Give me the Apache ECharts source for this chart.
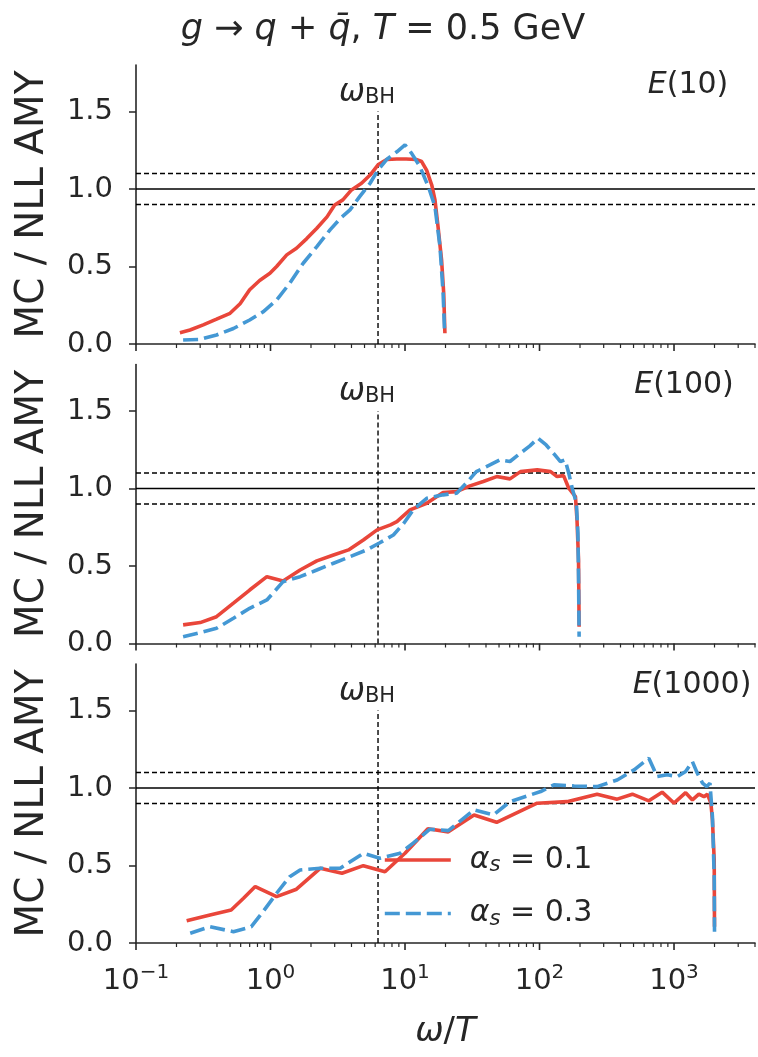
<!DOCTYPE html>
<html>
<head>
<meta charset="utf-8">
<script src="https://cdn.jsdelivr.net/npm/echarts@6/dist/echarts.min.js"></script>
<style>
  html, body { margin: 0; padding: 0; background: #fff; }
  #chart { width: 758px; height: 1057px; }
</style>
</head>
<body>
<div id="chart"></div>
<script>
// ---- data: omega/T (x) and MC / NLL AMY ratio (y) ----
const e10_a01_x = [0.212, 0.252, 0.316, 0.397, 0.50, 0.594, 0.70, 0.83, 0.99, 1.11, 1.32, 1.56, 1.86, 2.21, 2.63, 3.0, 3.45, 4.0, 4.75, 5.5, 6.3, 7.3, 8.7, 10.2, 12.1, 13.3, 14.5, 15.8, 16.7, 17.6, 18.7, 19.4, 19.8];
const e10_a01_y = [0.073, 0.09, 0.123, 0.16, 0.198, 0.26, 0.35, 0.41, 0.456, 0.50, 0.575, 0.618, 0.68, 0.747, 0.82, 0.897, 0.93, 0.994, 1.037, 1.09, 1.156, 1.19, 1.194, 1.194, 1.19, 1.177, 1.12, 1.026, 0.93, 0.757, 0.542, 0.327, 0.069];
const e10_a03_x = [0.224, 0.30, 0.397, 0.53, 0.70, 0.886, 1.11, 1.39, 1.75, 2.21, 2.77, 3.3, 3.9, 4.6, 5.5, 6.3, 7.3, 8.7, 10.0, 11.2, 12.9, 14.9, 16.7, 18.2, 19.2, 19.7];
const e10_a03_y = [0.026, 0.03, 0.058, 0.10, 0.155, 0.209, 0.284, 0.392, 0.521, 0.628, 0.736, 0.81, 0.865, 0.951, 1.037, 1.123, 1.19, 1.24, 1.285, 1.23, 1.145, 1.016, 0.886, 0.628, 0.327, 0.07];

const e100_a01_x = [0.224, 0.30, 0.397, 0.53, 0.70, 0.94, 1.24, 1.66, 2.21, 2.94, 3.80, 4.9, 6.2, 7.8, 8.7, 10.9, 14.5, 19.2, 24.2, 30.4, 38.2, 48.0, 60.3, 72.2, 96.2, 121, 135, 151, 165, 185, 190, 195, 197];
const e100_a01_y = [0.12, 0.135, 0.173, 0.26, 0.345, 0.431, 0.403, 0.474, 0.533, 0.571, 0.604, 0.668, 0.733, 0.765, 0.786, 0.862, 0.905, 0.974, 0.98, 1.017, 1.045, 1.077, 1.062, 1.109, 1.12, 1.109, 1.077, 1.083, 1.002, 0.948, 0.797, 0.54, 0.108];
const e100_a03_x = [0.224, 0.30, 0.397, 0.53, 0.70, 0.94, 1.24, 1.66, 2.21, 2.94, 3.9, 5.2, 6.5, 8.2, 9.8, 11.5, 14.5, 19.2, 24.2, 28.5, 33.9, 42.8, 50.8, 60.3, 72.2, 84.8, 97.5, 112, 130, 143, 155, 165, 175, 188, 193, 195, 197];
const e100_a03_y = [0.044, 0.07, 0.098, 0.163, 0.227, 0.281, 0.399, 0.431, 0.474, 0.518, 0.56, 0.604, 0.65, 0.70, 0.776, 0.862, 0.937, 0.959, 0.97, 1.034, 1.109, 1.152, 1.185, 1.174, 1.228, 1.275, 1.325, 1.281, 1.217, 1.174, 1.185, 1.099, 1.002, 0.905, 0.711, 0.431, 0.044];

const e1000_a01_x = [0.238, 0.355, 0.51, 0.63, 0.77, 1.11, 1.56, 2.34, 3.4, 4.9, 7.1, 10.0, 14.8, 21, 32.6, 48, 96, 160, 268, 378, 490, 650, 816, 1000, 1220, 1370, 1530, 1670, 1770, 1880, 1930, 1990, 2000];
const e1000_a01_y = [0.144, 0.181, 0.213, 0.289, 0.364, 0.299, 0.347, 0.482, 0.45, 0.499, 0.46, 0.579, 0.737, 0.717, 0.826, 0.779, 0.902, 0.912, 0.96, 0.928, 0.96, 0.917, 0.973, 0.902, 0.97, 0.923, 0.96, 0.944, 0.96, 0.902, 0.794, 0.536, 0.105];
const e1000_a03_x = [0.253, 0.355, 0.53, 0.72, 0.88, 1.11, 1.39, 1.66, 2.34, 3.3, 4.9, 6.5, 9.2, 11.5, 15.3, 21, 32.6, 45.5, 60.3, 102, 128, 181, 268, 378, 505, 650, 750, 890, 1060, 1220, 1370, 1490, 1630, 1750, 1850, 1930, 1990, 2000];
const e1000_a03_y = [0.063, 0.105, 0.073, 0.105, 0.202, 0.321, 0.428, 0.471, 0.482, 0.482, 0.579, 0.547, 0.579, 0.644, 0.734, 0.725, 0.859, 0.826, 0.912, 0.977, 1.02, 1.013, 1.009, 1.052, 1.117, 1.192, 1.074, 1.085, 1.074, 1.106, 1.17, 1.095, 1.031, 1.009, 1.031, 0.815, 0.428, 0.073];

const panelLabels = ['10', '100', '1000'];
const omegaBH = 6.3;
const bandLines = [0.9, 1.1];
const unityLine = 1.0;
const xMajorTicks = [0.1, 1, 10, 100, 1000];
const yTicks = [0, 0.5, 1.0, 1.5];
const xRange = [0.1, 4000];
const yRange = [0, 1.8];

// minor log ticks 2..9 x 10^k
const xMinorTicks = [];
for (let k = -1; k <= 3; k++) {
    for (let m = 2; m <= 9; m++) {
        const v = m * Math.pow(10, k);
        if (v <= xRange[1]) xMinorTicks.push(v);
    }
}

const FONT = "'DejaVu Sans', sans-serif";
const INK = '#262626';
const RED = '#e9463a';
const BLUE = '#4498d4';

const panels = [
    { a01: [e10_a01_x, e10_a01_y], a03: [e10_a03_x, e10_a03_y] },
    { a01: [e100_a01_x, e100_a01_y], a03: [e100_a03_x, e100_a03_y] },
    { a01: [e1000_a01_x, e1000_a01_y], a03: [e1000_a03_x, e1000_a03_y] }
];

const gridTops = [65, 364.5, 664];
const gridH = 279;

function pairs(xs, ys) {
    return xs.map((x, i) => [x, ys[i]]);
}

function logLabel(v) {
    const l = Math.log10(v);
    const e = Math.round(l);
    if (Math.abs(l - e) > 1e-6) return '';
    return '{b|10}{e|' + (e < 0 ? '\u2212' + (-e) : e) + '}';
}

const grids = [], xAxes = [], yAxes = [], series = [];

panels.forEach((p, i) => {
    const last = i === panels.length - 1;
    grids.push({ left: 136, right: 3, top: gridTops[i], height: gridH, outerBoundsMode: 'none' });
    xAxes.push({
        gridIndex: i, type: 'log', logBase: 10, min: xRange[0], max: xRange[1],
        splitLine: { show: false },
        axisLine: { show: true, lineStyle: { color: INK, width: 1.6 } },
        axisTick: { show: false },
        axisLabel: {
            show: last, margin: 20, formatter: logLabel, fontFamily: FONT, color: INK,
            rich: {
                b: { fontSize: 29, fontFamily: FONT, color: INK },
                e: { fontSize: 20, fontFamily: FONT, color: INK, padding: [0, 0, 16, 0] }
            }
        },
        name: last ? '{i|ω}/{i|T}' : '',
        nameLocation: 'middle', nameGap: 72,
        nameTextStyle: {
            fontSize: 34, fontFamily: FONT, color: INK,
            rich: {
                i: { fontSize: 34, fontStyle: 'italic', fontFamily: FONT, color: INK }
            }
        }
    });
    yAxes.push({
        gridIndex: i, type: 'value', min: yRange[0], max: yRange[1],
        splitLine: { show: false },
        axisLine: { show: true, lineStyle: { color: INK, width: 1.6 } },
        axisTick: { show: true, length: 7, customValues: yTicks, lineStyle: { color: INK, width: 1.5 } },
        axisLabel: {
            customValues: yTicks, margin: 23, fontSize: 29, fontFamily: FONT, color: INK,
            formatter: v => v.toFixed(1)
        },
        name: 'MC / NLL AMY', nameLocation: 'middle', nameRotate: 90, nameGap: 84,
        nameTextStyle: { fontSize: 39, fontFamily: FONT, color: INK }
    });

    const base = { xAxisIndex: i, yAxisIndex: i, type: 'line', showSymbol: false, symbol: 'none',
                   silent: true, animation: false };
    // reference lines
    series.push(Object.assign({}, base, {
        data: [[xRange[0], unityLine], [xRange[1], unityLine]],
        lineStyle: { color: '#000', width: 1.5 }
    }));
    bandLines.forEach(b => series.push(Object.assign({}, base, {
        data: [[xRange[0], b], [xRange[1], b]],
        lineStyle: { color: '#000', width: 1.4, type: [5, 3] }
    })));
    series.push(Object.assign({}, base, {
        data: [[omegaBH, 0], [omegaBH, 1.5]],
        lineStyle: { color: '#000', width: 1.4, type: [5, 3] }
    }));
    // data curves
    series.push(Object.assign({}, base, {
        name: 'a01', data: pairs(p.a01[0], p.a01[1]),
        lineStyle: { color: RED, width: 3.6 }, itemStyle: { color: RED }
    }));
    series.push(Object.assign({}, base, {
        name: 'a03', data: pairs(p.a03[0], p.a03[1]),
        lineStyle: { color: BLUE, width: 3.6, type: [15, 6] }, itemStyle: { color: BLUE }
    }));
    // log-axis ticks, major and minor
    const tickData = xMajorTicks.map(v => [v, 0, 7, 1.6]).concat(xMinorTicks.map(v => [v, 0, 4, 1.2]));
    series.push({
        type: 'custom', xAxisIndex: i, yAxisIndex: i, silent: true, animation: false, clip: false,
        encode: { x: 0, y: 1 },
        data: tickData,
        renderItem: (params, api) => {
            const pt = api.coord([api.value(0), 0]);
            return {
                type: 'line',
                shape: { x1: pt[0], y1: pt[1], x2: pt[0], y2: pt[1] + api.value(2) },
                style: { stroke: INK, lineWidth: api.value(3) }
            };
        }
    });
});

const graphics = [{
    type: 'text', x: 383, y: 30,
    style: {
        text: '{i|g} \u2192 {i|q} + {i|q\u0304}, {i|T} = 0.5 GeV',
        fontSize: 35, fontFamily: FONT, fill: INK, align: 'center', verticalAlign: 'middle',
        rich: { i: { fontSize: 35, fontStyle: 'italic', fontFamily: FONT, fill: INK } }
    }
}];
const eLabelPos = [[688, 85], [684, 385], [692, 685]];
const wLabelY = [93, 392, 692];
panelLabels.forEach((lab, i) => {
    graphics.push({
        type: 'text', x: eLabelPos[i][0], y: eLabelPos[i][1],
        style: {
            text: '{i|E}(' + lab + ')', fontSize: 30, fontFamily: FONT, fill: INK,
            align: 'center', verticalAlign: 'middle',
            rich: { i: { fontSize: 30, fontStyle: 'italic', fontFamily: FONT, fill: INK } }
        }
    });
    graphics.push({
        type: 'text', x: 367, y: wLabelY[i],
        style: {
            text: '{w|ω}{s|BH}', fontSize: 30, fontFamily: FONT, fill: INK, align: 'center', verticalAlign: 'middle',
            rich: {
                w: { fontSize: 31, fontStyle: 'italic', fontFamily: FONT, fill: INK },
                s: { fontSize: 21, fontFamily: FONT, fill: INK, padding: [10, 0, 0, 0] }
            }
        }
    });
});

const chart = echarts.init(document.getElementById('chart'));
chart.setOption({
    animation: false,
    backgroundColor: '#fff',
    grid: grids,
    xAxis: xAxes,
    yAxis: yAxes,
    series: series,
    graphic: graphics,
    legend: {
        data: ['a01', 'a03'], orient: 'vertical', left: 383, top: 845, padding: 0,
        itemWidth: 66, itemHeight: 30, itemGap: 22,
        lineStyle: { width: 3.6 },
        itemStyle: { opacity: 0 },
        formatter: n => '{a|α}{s|s}{t| = ' + (n === 'a01' ? '0.1' : '0.3') + '}',
        textStyle: {
            fontFamily: FONT, fontSize: 30, color: INK, lineHeight: 30,
            rich: {
                a: { fontSize: 30, fontStyle: 'italic', fontFamily: FONT, color: INK, padding: [0, 0, 0, 14] },
                s: { fontSize: 21, fontStyle: 'italic', fontFamily: FONT, color: INK, padding: [12, 0, 0, 0] },
                t: { fontSize: 30, fontFamily: FONT, color: INK }
            }
        }
    }
});
</script>
</body>
</html>
